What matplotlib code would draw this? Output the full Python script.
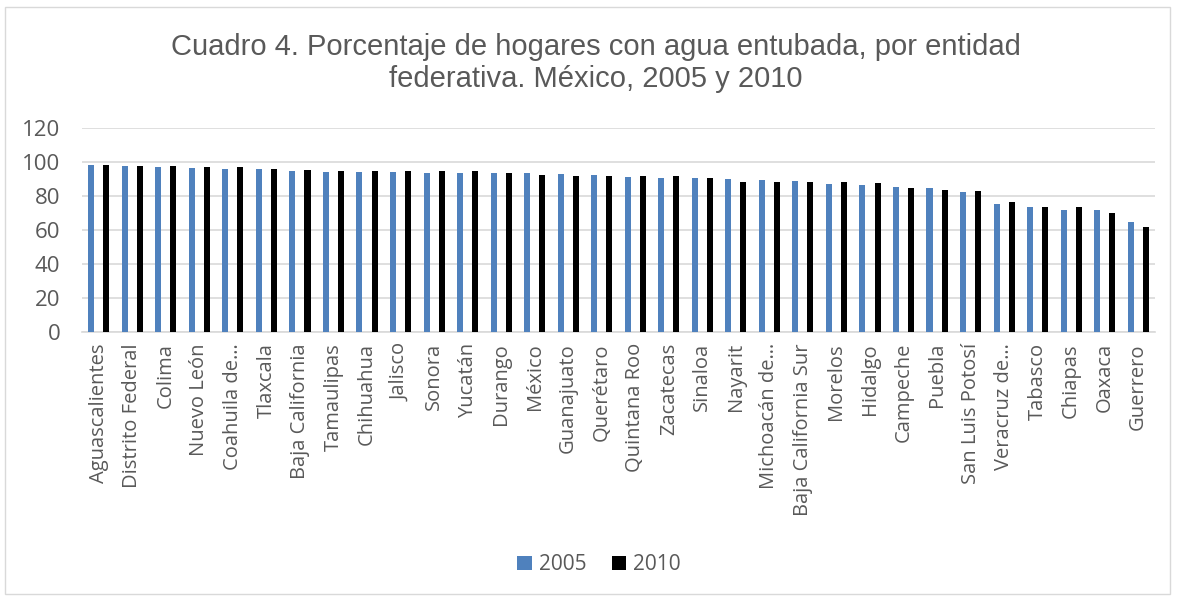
import numpy as np
import matplotlib
matplotlib.use("Agg")
import matplotlib.pyplot as plt
from matplotlib.patches import Rectangle

# Data
estados = ["Aguascalientes", "Distrito Federal", "Colima", "Nuevo León", "Coahuila de…",
           "Tlaxcala", "Baja California", "Tamaulipas", "Chihuahua", "Jalisco", "Sonora",
           "Yucatán", "Durango", "México", "Guanajuato", "Querétaro", "Quintana Roo",
           "Zacatecas", "Sinaloa", "Nayarit", "Michoacán de…", "Baja California Sur",
           "Morelos", "Hidalgo", "Campeche", "Puebla", "San Luis Potosí", "Veracruz de…",
           "Tabasco", "Chiapas", "Oaxaca", "Guerrero"]
v2005 = [98.2, 97.8, 97.2, 96.6, 96.1, 95.7, 94.5, 94.3, 94.3, 93.9, 93.7,
         93.7, 93.5, 93.3, 92.9, 92.3, 91.3, 90.7, 90.3, 90.1, 89.7, 88.8,
         86.8, 86.2, 85.4, 84.6, 82.6, 75.3, 73.8, 71.8, 71.6, 64.5]
v2010 = [98.2, 97.6, 97.4, 97.0, 96.8, 95.7, 95.5, 94.9, 94.9, 94.5, 94.5,
         94.5, 93.3, 92.3, 91.9, 91.9, 91.7, 91.5, 90.3, 88.4, 88.2, 88.2,
         88.0, 87.4, 85.0, 83.8, 83.2, 76.5, 73.8, 73.8, 69.8, 61.9]
yticks = [0, 20, 40, 60, 80, 100, 120]

gray = "#595959"
fig = plt.figure(figsize=(11.77, 5.99), dpi=100)
fig.patches.append(Rectangle((0.004, 0.008), 0.99, 0.98, transform=fig.transFigure,
                             fill=False, edgecolor="#d9d9d9", lw=1))

ax = fig.add_axes([82 / 1177, 1 - 332 / 599, (1155 - 82) / 1177, (332 - 128) / 599])
x = np.arange(len(estados))
ax.bar(x - 0.225, v2005, width=0.18, color="#4f81bd", label="2005", zorder=3)
ax.bar(x + 0.225, v2010, width=0.18, color="#000000", label="2010", zorder=3)

ax.set_xlim(-0.5, len(estados) - 0.5)
ax.set_ylim(0, 120)
ax.set_yticks(yticks)
ax.yaxis.grid(True, color="#d9d9d9", lw=1.2, zorder=0)
for s in ["top", "right", "left"]:
    ax.spines[s].set_visible(False)
ax.spines["bottom"].set_color("#d9d9d9")
ax.spines["bottom"].set_linewidth(1.2)
ax.tick_params(axis="both", length=0, colors=gray)
ax.tick_params(axis="y", pad=15.5, labelsize=16)
ax.tick_params(axis="x", pad=8)
ax.set_xticks(x)
ax.set_xticklabels(estados, rotation=90, fontfamily="Open Sans", fontsize=14.5)
for t in ax.get_yticklabels():
    t.set_fontfamily("Open Sans")

fig.text(0.506, 0.895, "Cuadro 4. Porcentaje de hogares con agua entubada, por entidad\nfederativa. México, 2005 y 2010",
         ha="center", va="center", fontsize=21, color=gray, fontfamily="Liberation Sans",
         linespacing=1.15)

leg = fig.legend(loc="center", bbox_to_anchor=(0.509, 0.057), ncol=2, frameon=False,
                 prop={"family": "Open Sans", "size": 15}, handlelength=0.7, handleheight=0.7,
                 columnspacing=1.2, handletextpad=0.35)
for t in leg.get_texts():
    t.set_color(gray)

fig.savefig("out.png", dpi=100)
